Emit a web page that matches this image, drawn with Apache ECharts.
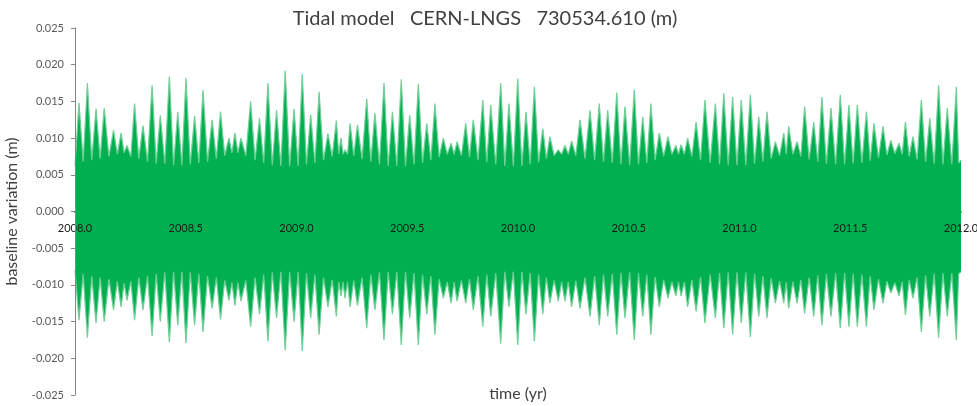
<!DOCTYPE html>
<html>
<head>
<meta charset="utf-8">
<script src="https://cdn.jsdelivr.net/npm/echarts@6/dist/echarts.min.js"></script>
<style>
  html, body { margin: 0; padding: 0; background: #fff; }
  #chart { width: 977px; height: 406px; }
</style>
</head>
<body>
<div id="chart"></div>
<script>
// Spring-tide spikes of the modelled baseline variation (years, metres)
const spikeYear = [
  2008.018, 2008.056, 2008.095, 2008.132, 2008.174, 2008.208, 2008.235, 2008.269, 2008.307, 2008.348,
  2008.385, 2008.426, 2008.464, 2008.501, 2008.540, 2008.578, 2008.619, 2008.657, 2008.695, 2008.722,
  2008.749, 2008.793, 2008.833, 2008.871, 2008.910, 2008.949, 2008.989, 2009.026, 2009.064, 2009.102,
  2009.142, 2009.180, 2009.201, 2009.219, 2009.242, 2009.275, 2009.317, 2009.354, 2009.395, 2009.433,
  2009.473, 2009.511, 2009.550, 2009.588, 2009.625, 2009.663, 2009.698, 2009.725, 2009.764, 2009.798,
  2009.841, 2009.877, 2009.922, 2009.959, 2009.999, 2010.036, 2010.074, 2010.112, 2010.144, 2010.182,
  2010.212, 2010.242, 2010.280, 2010.325, 2010.367, 2010.405, 2010.446, 2010.483, 2010.525, 2010.563,
  2010.600, 2010.638, 2010.677, 2010.713, 2010.736, 2010.766, 2010.804, 2010.844, 2010.891, 2010.929,
  2010.969, 2011.008, 2011.049, 2011.087, 2011.124, 2011.162, 2011.200, 2011.222, 2011.260, 2011.294,
  2011.335, 2011.372, 2011.413, 2011.455, 2011.494, 2011.532, 2011.573, 2011.607, 2011.648, 2011.683,
  2011.720, 2011.749, 2011.783, 2011.821, 2011.859, 2011.899, 2011.938, 2011.979
];
const spikeTop = [
  0.0148, 0.0175, 0.0140, 0.0141, 0.0111, 0.0107, 0.0090, 0.0147, 0.0117, 0.0172,
  0.0131, 0.0184, 0.0136, 0.0182, 0.0130, 0.0165, 0.0125, 0.0136, 0.0100, 0.0107,
  0.0100, 0.0150, 0.0127, 0.0175, 0.0138, 0.0192, 0.0140, 0.0187, 0.0132, 0.0163,
  0.0106, 0.0124, 0.0100, 0.0084, 0.0120, 0.0118, 0.0154, 0.0134, 0.0175, 0.0136,
  0.0180, 0.0131, 0.0174, 0.0120, 0.0147, 0.0100, 0.0093, 0.0095, 0.0120, 0.0125,
  0.0152, 0.0145, 0.0175, 0.0147, 0.0181, 0.0136, 0.0170, 0.0113, 0.0102, 0.0084,
  0.0090, 0.0096, 0.0125, 0.0138, 0.0147, 0.0138, 0.0162, 0.0143, 0.0166, 0.0129,
  0.0147, 0.0107, 0.0102, 0.0090, 0.0091, 0.0100, 0.0122, 0.0152, 0.0147, 0.0161,
  0.0156, 0.0152, 0.0159, 0.0129, 0.0136, 0.0095, 0.0107, 0.0116, 0.0095, 0.0143,
  0.0122, 0.0156, 0.0141, 0.0159, 0.0145, 0.0145, 0.0136, 0.0120, 0.0116, 0.0097,
  0.0093, 0.0122, 0.0102, 0.0152, 0.0127, 0.0172, 0.0141, 0.0170
];
const spikeBottom = [
  -0.0148, -0.0172, -0.0152, -0.0150, -0.0134, -0.0130, -0.0121, -0.0148, -0.0134, -0.0170,
  -0.0150, -0.0178, -0.0155, -0.0179, -0.0155, -0.0164, -0.0132, -0.0147, -0.0121, -0.0128,
  -0.0122, -0.0157, -0.0140, -0.0177, -0.0145, -0.0189, -0.0150, -0.0190, -0.0145, -0.0168,
  -0.0130, -0.0143, -0.0115, -0.0118, -0.0130, -0.0128, -0.0159, -0.0134, -0.0175, -0.0140,
  -0.0182, -0.0145, -0.0182, -0.0140, -0.0168, -0.0118, -0.0125, -0.0122, -0.0125, -0.0134,
  -0.0157, -0.0143, -0.0180, -0.0130, -0.0182, -0.0140, -0.0177, -0.0140, -0.0125, -0.0122,
  -0.0122, -0.0130, -0.0132, -0.0143, -0.0155, -0.0143, -0.0168, -0.0145, -0.0175, -0.0143,
  -0.0168, -0.0130, -0.0118, -0.0115, -0.0115, -0.0130, -0.0136, -0.0152, -0.0145, -0.0159,
  -0.0168, -0.0152, -0.0171, -0.0143, -0.0145, -0.0125, -0.0125, -0.0132, -0.0125, -0.0139,
  -0.0143, -0.0155, -0.0143, -0.0159, -0.0157, -0.0157, -0.0157, -0.0134, -0.0125, -0.0111,
  -0.0115, -0.0141, -0.0118, -0.0164, -0.0143, -0.0172, -0.0143, -0.0175
];
// Neap level reached between one spike and the next
const valleyTop = [
  0.0068, 0.0070, 0.0072, 0.0075, 0.0078, 0.0080, 0.0075, 0.0072, 0.0068, 0.0065,
  0.0065, 0.0063, 0.0063, 0.0064, 0.0066, 0.0068, 0.0072, 0.0076, 0.0080, 0.0080,
  0.0076, 0.0070, 0.0066, 0.0063, 0.0062, 0.0062, 0.0062, 0.0064, 0.0066, 0.0070,
  0.0075, 0.0078, 0.0078, 0.0078, 0.0076, 0.0072, 0.0068, 0.0064, 0.0062, 0.0062,
  0.0062, 0.0064, 0.0066, 0.0070, 0.0074, 0.0078, 0.0078, 0.0076, 0.0074, 0.0070,
  0.0067, 0.0064, 0.0062, 0.0062, 0.0062, 0.0064, 0.0067, 0.0072, 0.0076, 0.0078,
  0.0078, 0.0076, 0.0072, 0.0070, 0.0068, 0.0066, 0.0064, 0.0063, 0.0064, 0.0066,
  0.0070, 0.0075, 0.0078, 0.0078, 0.0078, 0.0075, 0.0070, 0.0066, 0.0064, 0.0063,
  0.0063, 0.0063, 0.0065, 0.0068, 0.0072, 0.0076, 0.0078, 0.0078, 0.0075, 0.0071,
  0.0068, 0.0065, 0.0064, 0.0064, 0.0065, 0.0066, 0.0069, 0.0073, 0.0077, 0.0079,
  0.0078, 0.0075, 0.0071, 0.0068, 0.0065, 0.0064, 0.0064, 0.0066
];
const valleyBottom = [
  -0.0085, -0.0088, -0.0090, -0.0092, -0.0095, -0.0098, -0.0095, -0.0090, -0.0088, -0.0085,
  -0.0083, -0.0082, -0.0082, -0.0083, -0.0085, -0.0088, -0.0090, -0.0094, -0.0097, -0.0097,
  -0.0094, -0.0090, -0.0086, -0.0083, -0.0082, -0.0082, -0.0082, -0.0084, -0.0086, -0.0090,
  -0.0093, -0.0096, -0.0096, -0.0096, -0.0094, -0.0090, -0.0086, -0.0083, -0.0082, -0.0082,
  -0.0082, -0.0084, -0.0086, -0.0088, -0.0092, -0.0096, -0.0096, -0.0094, -0.0092, -0.0088,
  -0.0086, -0.0084, -0.0082, -0.0082, -0.0082, -0.0084, -0.0086, -0.0090, -0.0094, -0.0096,
  -0.0096, -0.0094, -0.0090, -0.0088, -0.0086, -0.0085, -0.0084, -0.0083, -0.0084, -0.0086,
  -0.0089, -0.0093, -0.0096, -0.0096, -0.0096, -0.0093, -0.0089, -0.0086, -0.0084, -0.0083,
  -0.0083, -0.0083, -0.0085, -0.0088, -0.0091, -0.0095, -0.0096, -0.0096, -0.0093, -0.0090,
  -0.0087, -0.0085, -0.0084, -0.0084, -0.0085, -0.0086, -0.0088, -0.0092, -0.0095, -0.0097,
  -0.0096, -0.0093, -0.0090, -0.0087, -0.0085, -0.0084, -0.0084, -0.0085
];
// Envelope at the start and end of the record
const startYear = 2008.0, startTop = 0.0062, startBottom = -0.0080;
const endYear = 2012.0, endTop = 0.0070, endBottom = -0.0082;

const yTicks = { min: -0.025, max: 0.025, step: 0.005 };
const xTicks = { min: 2008.0, max: 2012.0, step: 0.5 };

// Build the outline: spike tip, then the neap level halfway to the next spike
function envelope(tips, valleys, first, last) {
  const pts = [[startYear, first]];
  for (let i = 0; i < spikeYear.length; i++) {
    const next = i + 1 < spikeYear.length ? spikeYear[i + 1] : endYear;
    pts.push([spikeYear[i], tips[i]]);
    pts.push([(spikeYear[i] + next) / 2, valleys[i]]);
  }
  pts.push([endYear, last]);
  return pts;
}

const green = '#00b050';
const font = 'Lato, "Open Sans", sans-serif';

const gridTop = 28, gridBottom = 11;
const chartHeight = 406;
// the time axis sits on the zero line, half way down the plot
const zeroOffset = -(chartHeight - gridTop - gridBottom) / 2;

const chart = echarts.init(document.getElementById('chart'), null, { renderer: 'canvas' });
chart.setOption({
  animation: false,
  backgroundColor: '#ffffff',
  title: {
    text: 'Tidal model   CERN-LNGS   730534.610 (m)',
    left: 480,
    textAlign: 'center',
    top: 4,
    textStyle: { fontFamily: font, fontSize: 20, fontWeight: 'normal', color: '#404040' }
  },
  grid: { left: 75, right: 16, top: gridTop, bottom: gridBottom, containLabel: false, outerBoundsMode: 'none' },
  xAxis: {
    type: 'value',
    position: 'bottom',
    offset: zeroOffset,
    min: xTicks.min, max: xTicks.max, interval: xTicks.step,
    z: 10,
    name: 'time (yr)',
    nameLocation: 'middle',
    nameGap: 174,
    nameTextStyle: { fontFamily: font, fontSize: 16, color: '#404040' },
    // zero line drawn in the series colour so the two halves join cleanly
    axisLine: { show: true, onZero: false, lineStyle: { color: green, width: 2 } },
    axisTick: { show: false },
    splitLine: { show: false },
    axisLabel: {
      fontFamily: font, fontSize: 11, color: '#1a1a1a', margin: 11,
      formatter: v => v.toFixed(1)
    }
  },
  yAxis: {
    type: 'value',
    min: yTicks.min, max: yTicks.max, interval: yTicks.step,
    z: 11,
    name: 'baseline variation (m)',
    nameLocation: 'middle',
    nameGap: 55,
    nameTextStyle: { fontFamily: font, fontSize: 16, color: '#404040' },
    axisLine: { show: true, onZero: false, lineStyle: { color: '#868686', width: 1 } },
    axisTick: { show: true, inside: false, length: 4, lineStyle: { color: '#868686' } },
    splitLine: { show: false },
    axisLabel: {
      fontFamily: font, fontSize: 11, color: '#595959', margin: 11,
      formatter: v => v.toFixed(3)
    }
  },
  series: [
    {
      name: 'upper',
      type: 'line',
      data: envelope(spikeTop, valleyTop, startTop, endTop),
      symbol: 'none',
      lineStyle: { color: '#6fcf97', width: 1.2 },
      areaStyle: { color: green, opacity: 1 },
      z: 2
    },
    {
      name: 'lower',
      type: 'line',
      data: envelope(spikeBottom, valleyBottom, startBottom, endBottom),
      symbol: 'none',
      lineStyle: { color: '#6fcf97', width: 1.2 },
      areaStyle: { color: green, opacity: 1 },
      z: 2
    }
  ]
});
</script>
</body>
</html>
